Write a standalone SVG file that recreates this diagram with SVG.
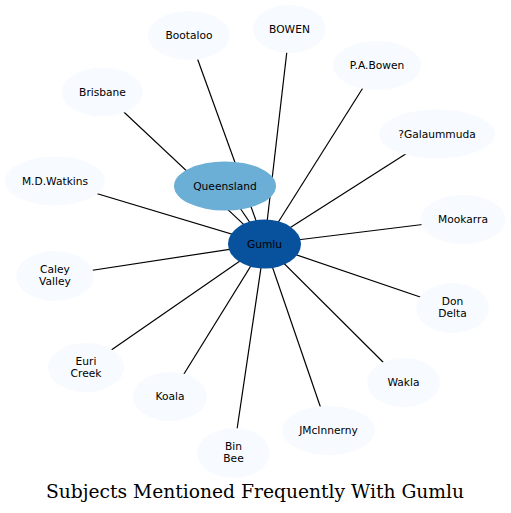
<svg xmlns="http://www.w3.org/2000/svg" width="511" height="513" viewBox="0 0 511 513">
<style>
.n ellipse{fill:#f7fbff}
text{font-family:"DejaVu Sans",sans-serif;font-size:10.67px;fill:#000;text-anchor:middle}
.e line{stroke:#000;stroke-width:1.2}
.title{font-family:"DejaVu Serif",serif;font-size:18.7px}
</style>
<rect width="511" height="513" fill="#fff"/>
<g class="e" id="edges">
<line x1="264.5" y1="244" x2="189" y2="35.5"/>
<line x1="264.5" y1="244" x2="289.5" y2="29"/>
<line x1="264.5" y1="244" x2="377" y2="65.5"/>
<line x1="264.5" y1="244" x2="437" y2="134"/>
<line x1="264.5" y1="244" x2="463" y2="219.5"/>
<line x1="264.5" y1="244" x2="452.5" y2="308"/>
<line x1="264.5" y1="244" x2="403.5" y2="382.5"/>
<line x1="264.5" y1="244" x2="328.5" y2="430.5"/>
<line x1="264.5" y1="244" x2="233.5" y2="453"/>
<line x1="264.5" y1="244" x2="170" y2="396.5"/>
<line x1="264.5" y1="244" x2="86" y2="367.5"/>
<line x1="264.5" y1="244" x2="55" y2="276"/>
<line x1="264.5" y1="244" x2="55" y2="181"/>
<line x1="264.5" y1="244" x2="102.5" y2="92"/>
<line x1="264.5" y1="244" x2="225" y2="186"/>
</g>
<g class="n" id="bootaloo"><ellipse cx="189" cy="35.5" rx="41" ry="24.5"/><text x="189" y="39">Bootaloo</text></g>
<g class="n" id="bowen"><ellipse cx="289.5" cy="29" rx="36.5" ry="24"/><text x="289.5" y="32.5">BOWEN</text></g>
<g class="n" id="pabowen"><ellipse cx="377" cy="65.5" rx="44" ry="24.5"/><text x="377" y="69">P.A.Bowen</text></g>
<g class="n" id="galaummuda"><ellipse cx="437" cy="134" rx="58" ry="24.5"/><text x="437" y="137.5">?Galaummuda</text></g>
<g class="n" id="mookarra"><ellipse cx="463" cy="219.5" rx="42.5" ry="24.5"/><text x="463" y="223">Mookarra</text></g>
<g class="n" id="dondelta"><ellipse cx="452.5" cy="308" rx="36.5" ry="25"/><text x="452.5" y="305">Don</text><text x="452.5" y="317">Delta</text></g>
<g class="n" id="wakla"><ellipse cx="403.5" cy="382.5" rx="36.5" ry="24.5"/><text x="403.5" y="386">Wakla</text></g>
<g class="n" id="jmcinnerny"><ellipse cx="328.5" cy="430.5" rx="46.5" ry="24.5"/><text x="328.5" y="434">JMcInnerny</text></g>
<g class="n" id="binbee"><ellipse cx="233.5" cy="453" rx="36.5" ry="25"/><text x="233.5" y="450">Bin</text><text x="233.5" y="462">Bee</text></g>
<g class="n" id="koala"><ellipse cx="170" cy="396.5" rx="37" ry="24.5"/><text x="170" y="400">Koala</text></g>
<g class="n" id="euricreek"><ellipse cx="86" cy="367.5" rx="38" ry="24.5"/><text x="86" y="364.5">Euri</text><text x="86" y="376.5">Creek</text></g>
<g class="n" id="caleyvalley"><ellipse cx="55" cy="276" rx="39" ry="25"/><text x="55" y="273">Caley</text><text x="55" y="285">Valley</text></g>
<g class="n" id="mdwatkins"><ellipse cx="55" cy="181" rx="50" ry="24.5"/><text x="55" y="184.5">M.D.Watkins</text></g>
<g class="n" id="brisbane"><ellipse cx="102.5" cy="92" rx="40.5" ry="24.5"/><text x="102.5" y="95.5">Brisbane</text></g>
<g id="queensland"><ellipse cx="225" cy="186" rx="51" ry="24.5" fill="#6baed6"/><text x="225" y="189.5">Queensland</text></g>
<g id="gumlu"><ellipse cx="264.5" cy="244" rx="36.5" ry="24.5" fill="#08519c"/><text x="264.5" y="247.5">Gumlu</text></g>
<text class="title" x="255" y="498">Subjects Mentioned Frequently With Gumlu</text>
</svg>
